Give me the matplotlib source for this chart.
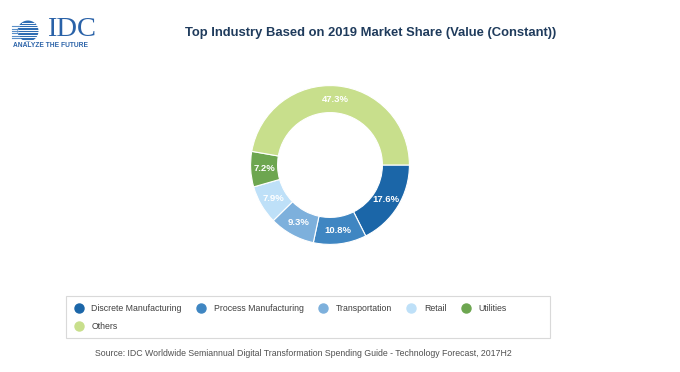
import matplotlib
matplotlib.use("Agg")
import matplotlib.pyplot as plt
from matplotlib.patches import Rectangle, Circle
from matplotlib.lines import Line2D
import numpy as np

categories = ["Discrete Manufacturing", "Process Manufacturing", "Transportation",
              "Retail", "Utilities", "Others"]
shares = [17.6, 10.8, 9.3, 7.9, 7.2, 47.3]
colors = ["#1B66A8", "#3F86C2", "#7DB0DC", "#BEE0F8", "#6DA650", "#C8DF8C"]
title = "Top Industry Based on 2019 Market Share (Value (Constant))"
source = "Source: IDC Worldwide Semiannual Digital Transformation Spending Guide - Technology Forecast, 2017H2"

plt.rcParams['font.family'] = ['Liberation Sans', 'DejaVu Sans']

W, H = 680, 372
fig = plt.figure(figsize=(W / 100, H / 100), dpi=100)
fig.patch.set_facecolor("white")

def fx(x):
    return x / W

def fy(y):
    return 1 - y / H

# Donut
cx, cy, r = 330, 165, 81
ax = fig.add_axes([fx(cx - r), fy(cy + r), 2 * r / W, 2 * r / H])
wedges, texts, autotexts = ax.pie(
    shares, colors=colors, startangle=0, counterclock=False,
    radius=1.0, autopct=lambda p: f"{p:.1f}%", pctdistance=0.83,
    wedgeprops=dict(width=0.34, edgecolor="white", linewidth=0.8),
    textprops=dict(color="white", fontsize=6.8, fontweight="bold"))
for t, v in zip(autotexts, shares):
    t.set_text(f"{v:.1f}%")
ax.set_xlim(-1.02, 1.02)
ax.set_ylim(-1.02, 1.02)
ax.set_aspect("equal")
ax.axis("off")

# Title
fig.text(fx(371), fy(33), title, ha="center", va="center", fontsize=9.4,
         fontweight="bold", color="#1F3B5C")

# Legend box
fig.patches.append(Rectangle((fx(66), fy(338)), fx(550) - fx(66), fy(296) - fy(338),
                             transform=fig.transFigure, facecolor="white",
                             edgecolor="#D9D9D9", linewidth=0.8))
handles = [Line2D([], [], marker="o", linestyle="", markersize=6.5,
                  markerfacecolor=c, markeredgecolor=c) for c in colors]
order = [0, 5, 1, 2, 3, 4]
leg = fig.legend([handles[i] for i in order], [categories[i] for i in order],
                 ncol=5, loc="upper left", bbox_to_anchor=(fx(68), fy(298)),
                 frameon=False, fontsize=6.3, handletextpad=0.95,
                 columnspacing=1.72, handlelength=1.0, labelspacing=1.0,
                 borderpad=0.2, labelcolor="#404040")

# Source
fig.text(fx(95), fy(354), source, ha="left", va="center", fontsize=6.33,
         color="#505050")

# IDC logo (pixel coordinates)
lax = fig.add_axes([fx(8), fy(46), fx(46) - fx(8), fy(14) - fy(46)])
lax.set_xlim(8, 46)
lax.set_ylim(46, 14)
lax.axis("off")
lcx, lcy, lr = 28, 31, 10.5
circ = Circle((lcx, lcy), lr, facecolor="#2F6DB3", edgecolor="none")
lax.add_patch(circ)
ys = np.linspace(lcy - lr + 2, lcy + lr - 2, 8)
for yy in ys:
    half = np.sqrt(max(0.0, lr ** 2 - (yy - lcy) ** 2))
    lax.plot([lcx - half, lcx + half], [yy, yy], color="white", lw=0.7)
for yy in ys[1:-1]:
    half = np.sqrt(max(0.0, lr ** 2 - (yy + 1.2 - lcy) ** 2))
    lax.plot([12, lcx - half], [yy + 1.2, yy + 1.2], color="#5B8FC8", lw=0.8)
fig.text(fx(47), fy(30), "IDC", ha="left", va="center", fontsize=20.5,
         family=["Liberation Serif", "DejaVu Serif"], color="#2A62A8")
fig.text(fx(13), fy(45.5), "ANALYZE THE FUTURE", ha="left", va="center",
         fontsize=4.8, color="#2A62A8", fontweight="bold")

fig.savefig("out.png", dpi=100, facecolor="white")
